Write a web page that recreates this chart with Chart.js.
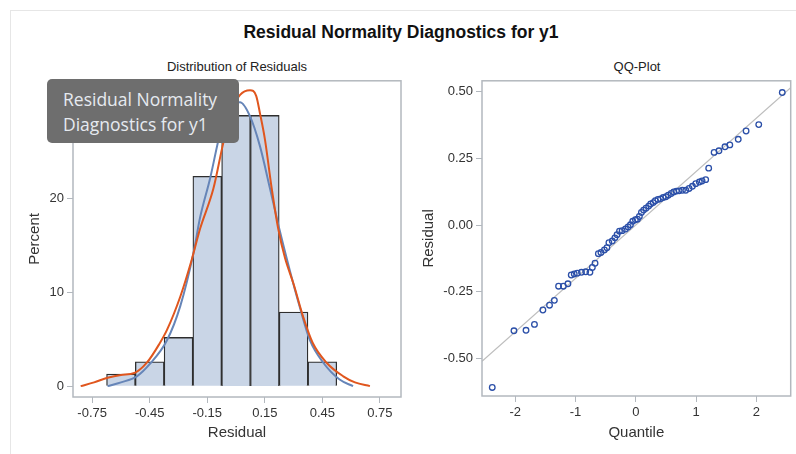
<!DOCTYPE html>
<html>
<head>
<meta charset="utf-8">
<script src="https://cdn.jsdelivr.net/npm/chart.js@4.4.1/dist/chart.umd.min.js"></script>
<style>
  body { margin: 0; background: #fff; width: 796px; height: 454px; overflow: hidden; position: relative; font-family: "Liberation Sans", Arial, sans-serif; }
  .frame { position: absolute; left: 10px; top: 10px; width: 800px; height: 460px; border-left: 1px solid #e6e6e6; border-top: 1px solid #e6e6e6; }
  .title { position: absolute; left: 0; width: 802px; top: 22px; text-align: center; font-weight: bold; font-size: 17.5px; color: #111; }
  .sub { position: absolute; top: 59px; font-size: 13px; color: #222; text-align: center; }
  canvas { position: absolute; }
  .tip { position: absolute; left: 47px; top: 79px; width: 192px; height: 64px; background: #6e6e6e; border-radius: 5px;
         color: #e6eaf0; font-family: "Open Sans", sans-serif; font-size: 17.5px; line-height: 25px; box-sizing: border-box; padding: 8px 0 0 16px; z-index: 5; }
</style>
</head>
<body>
<div class="frame"></div>
<div class="title">Residual Normality Diagnostics for y1</div>
<div class="sub" style="left:137px;width:200px;">Distribution of Residuals</div>
<div class="sub" style="left:537px;width:200px;">QQ-Plot</div>
<canvas id="histChart" width="410" height="384" style="left:0;top:70px"></canvas>
<canvas id="qqChart" width="386" height="384" style="left:410px;top:70px"></canvas>
<div class="tip">Residual Normality<br>Diagnostics for y1</div>
<script>
// histogram bins (percent)
const binCenters = [-0.6, -0.45, -0.3, -0.15, 0, 0.15, 0.3, 0.45];
const binPercents = [1.3, 2.6, 5.2, 22.4, 28.9, 28.9, 7.9, 2.6];
const histXTicks = [-0.75, -0.45, -0.15, 0.15, 0.45, 0.75];
const histYTicks = [0, 10, 20];

// normal density curve
const normX = [-0.67, -0.6, -0.517, -0.448, -0.36, -0.29, -0.222, -0.1875, -0.135, -0.083, -0.04, 0.021, 0.073, 0.125, 0.177, 0.229, 0.281, 0.333, 0.385, 0.455, 0.54, 0.61];
const normY = [0, 0.4, 1.05, 2.4, 4.9, 8.6, 14.2, 18.0, 22.2, 27.0, 29.6, 30.3, 28.8, 25.6, 21.1, 16.5, 12.3, 8.4, 4.9, 2.5, 0.7, 0];

// kernel density curve
const kdeX = [-0.81, -0.74, -0.67, -0.6, -0.53, -0.465, -0.4, -0.36, -0.29, -0.231, -0.1875, -0.118, -0.066, -0.014, 0.021, 0.073, 0.105, 0.125, 0.151, 0.186, 0.22, 0.255, 0.3, 0.35, 0.4, 0.472, 0.559, 0.62, 0.698];
const kdeY = [0, 0.4, 0.9, 1.2, 1.4, 2.5, 4.5, 6.0, 9.6, 13.5, 16.8, 21.1, 26.0, 29.8, 31.1, 31.6, 31.0, 29.1, 26.3, 21.1, 16.8, 13.7, 10.9, 7.4, 4.6, 2.5, 1.05, 0.4, 0];

// QQ plot
const qqX = [-2.38, -2.02, -1.82, -1.68, -1.54, -1.43, -1.35, -1.28, -1.2, -1.125, -1.07, -1.02, -0.97, -0.9, -0.83, -0.76, -0.72, -0.675, -0.62, -0.577, -0.52, -0.478, -0.445, -0.39, -0.346, -0.31, -0.27, -0.225, -0.17, -0.127, -0.088, -0.05, -0.005, 0.028, 0.06, 0.094, 0.13, 0.17, 0.214, 0.247, 0.29, 0.325, 0.368, 0.41, 0.456, 0.5, 0.54, 0.588, 0.63, 0.675, 0.72, 0.775, 0.83, 0.885, 0.94, 0.995, 1.055, 1.1, 1.16, 1.21, 1.3, 1.38, 1.48, 1.56, 1.7, 1.83, 2.04, 2.43];
const qqY = [-0.608, -0.396, -0.394, -0.372, -0.318, -0.3, -0.282, -0.229, -0.229, -0.22, -0.187, -0.183, -0.18, -0.177, -0.175, -0.177, -0.159, -0.143, -0.107, -0.103, -0.093, -0.085, -0.066, -0.06, -0.048, -0.036, -0.023, -0.021, -0.015, -0.007, 0.001, 0.014, 0.02, 0.022, 0.032, 0.047, 0.056, 0.063, 0.071, 0.079, 0.084, 0.091, 0.096, 0.098, 0.103, 0.106, 0.112, 0.118, 0.124, 0.127, 0.128, 0.13, 0.13, 0.137, 0.145, 0.155, 0.161, 0.165, 0.17, 0.213, 0.272, 0.278, 0.293, 0.3, 0.321, 0.352, 0.376, 0.496];
const refX = [-2.55, 2.57];
const refY = [-0.51, 0.514];
const qqXTicks = [-2, -1, 0, 1, 2];
const qqYTicks = [0.5, 0.25, 0, -0.25, -0.5];

const frameColor = '#b3b8be';
const textColor = '#333';

const framePlugin = {
  id: 'frame',
  afterDraw(chart) {
    const a = chart.chartArea;
    const ctx = chart.ctx;
    ctx.save();
    ctx.strokeStyle = frameColor;
    ctx.lineWidth = 1.5;
    ctx.strokeRect(a.left, a.top, a.right - a.left, a.bottom - a.top);
    ctx.restore();
  }
};

function toPoints(xs, ys) {
  return xs.map((x, i) => ({ x: x, y: ys[i] }));
}

function axis(min, max, ticks, fmt, title, size, titlePad, horizontal) {
  return {
    type: 'linear',
    min: min,
    max: max,
    offset: false,
    afterBuildTicks: s => { s.ticks = ticks.map(v => ({ value: v })); },
    afterFit: s => { if (horizontal) s.height = size; else s.width = size; },
    ticks: { callback: fmt, color: textColor, font: { size: 13, family: 'Liberation Sans' }, padding: 3, maxRotation: 0, autoSkip: false },
    grid: { display: true, drawOnChartArea: false, color: frameColor, tickLength: 6, offset: false },
    border: { display: false },
    title: { display: true, text: title, color: textColor, font: { size: 15, family: 'Liberation Sans' }, padding: titlePad }
  };
}

Chart.defaults.animation = false;

new Chart(document.getElementById('histChart').getContext('2d'), {
  type: 'bar',
  data: {
    datasets: [
      {
        type: 'line',
        data: toPoints(kdeX, kdeY),
        borderColor: '#e0561e',
        borderWidth: 2,
        pointRadius: 0,
        cubicInterpolationMode: 'monotone',
        order: 1
      },
      {
        type: 'line',
        data: toPoints(normX, normY),
        borderColor: '#6685b8',
        borderWidth: 2,
        pointRadius: 0,
        cubicInterpolationMode: 'monotone',
        order: 2
      },
      {
        data: toPoints(binCenters, binPercents),
        backgroundColor: '#c9d5e6',
        borderColor: '#2e2e2e',
        borderWidth: 1.3,
        barPercentage: 1,
        categoryPercentage: 1,
        order: 3
      }
    ]
  },
  options: {
    responsive: false,
    layout: { padding: { top: 6, right: 9, left: 0, bottom: 0 } },
    plugins: { legend: { display: false }, tooltip: { enabled: false } },
    scales: {
      x: axis(-0.85, 0.86, histXTicks, v => v.toFixed(2), 'Residual', 57, { top: 0, bottom: 12 }, true),
      y: axis(-1.16, 32.6, histYTicks, v => String(v), 'Percent', 73, { top: 26, bottom: 0 }, false)
    }
  },
  plugins: [framePlugin]
});

new Chart(document.getElementById('qqChart').getContext('2d'), {
  type: 'scatter',
  data: {
    datasets: [
      {
        data: toPoints(qqX, qqY),
        borderColor: '#2b4fa8',
        backgroundColor: 'rgba(0,0,0,0)',
        borderWidth: 1.3,
        pointRadius: 2.8,
        order: 1
      },
      {
        type: 'line',
        data: toPoints(refX, refY),
        borderColor: '#bdbdbd',
        borderWidth: 1.2,
        pointRadius: 0,
        order: 2
      }
    ]
  },
  options: {
    responsive: false,
    layout: { padding: { top: 6, right: 3, left: 0, bottom: 0 } },
    plugins: { legend: { display: false }, tooltip: { enabled: false } },
    scales: {
      x: axis(-2.55, 2.57, qqXTicks, v => String(v), 'Quantile', 58, { top: 0, bottom: 12 }, true),
      y: axis(-0.64, 0.54, qqYTicks, v => v.toFixed(2), 'Residual', 72, { top: 10, bottom: 0 }, false)
    }
  },
  plugins: [framePlugin]
});
</script>
</body>
</html>
